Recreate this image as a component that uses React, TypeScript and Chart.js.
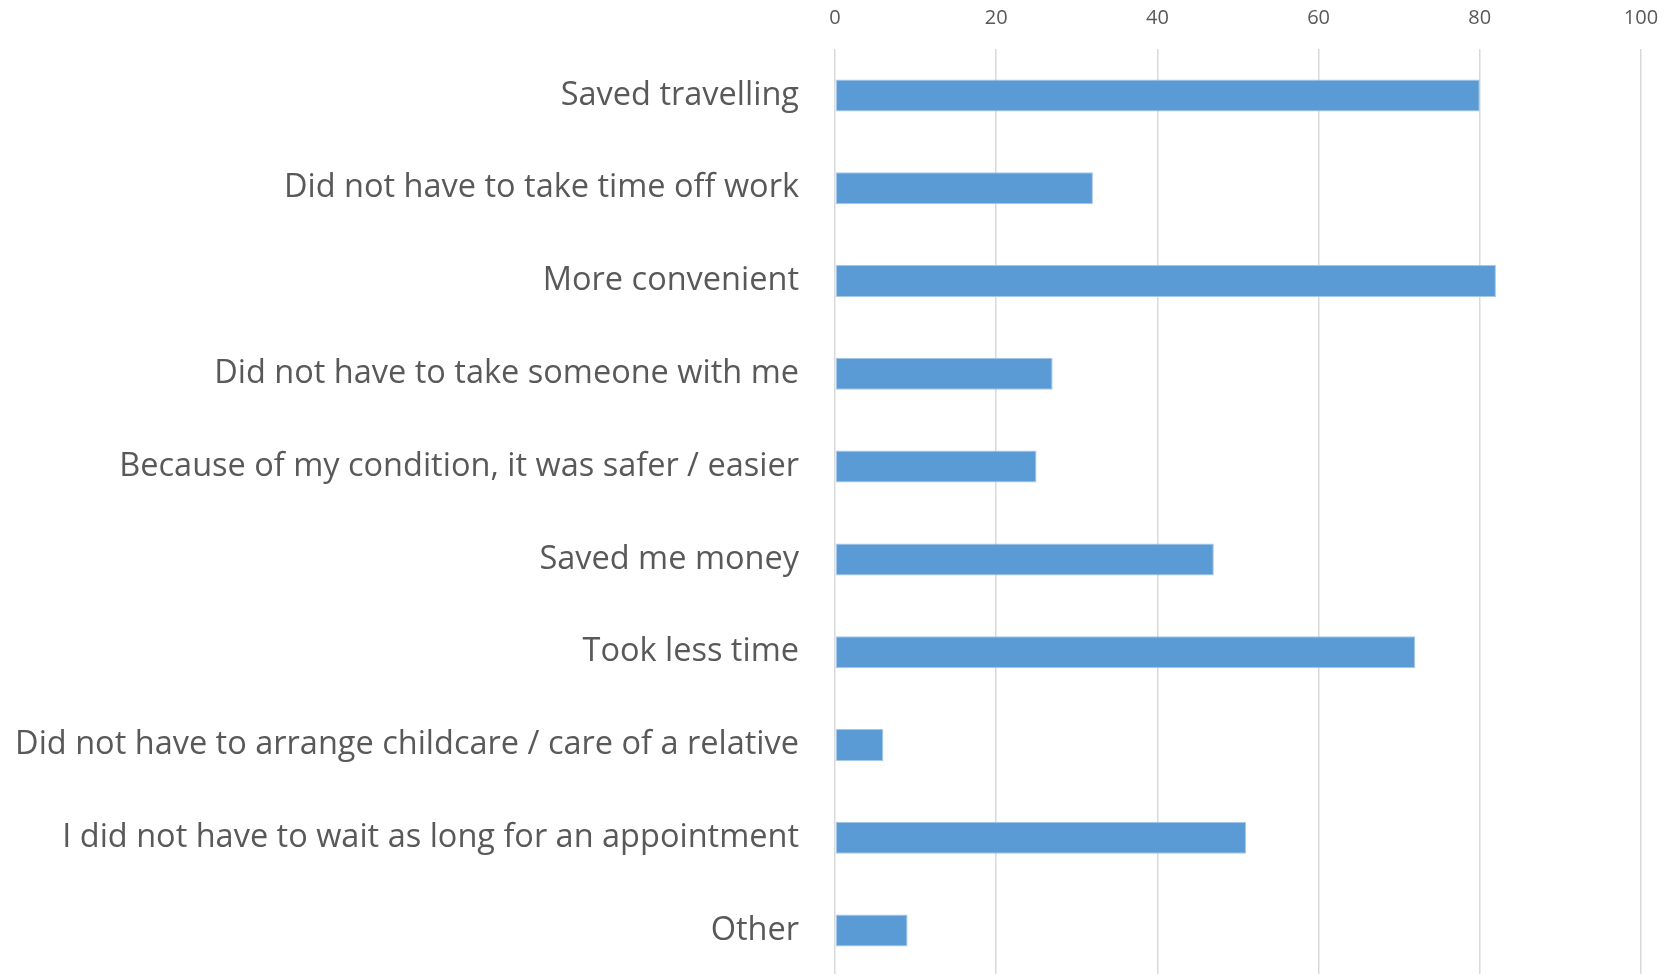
import React, { useEffect, useRef } from "react";
import { Chart, registerables } from "chart.js";

Chart.register(...registerables);

const categories = [
  "Saved travelling",
  "Did not have to take time off work",
  "More convenient",
  "Did not have to take someone with me",
  "Because of my condition, it was safer / easier",
  "Saved me money",
  "Took less time",
  "Did not have to arrange childcare / care of a relative",
  "I did not have to wait as long for an appointment",
  "Other",
];

const values = [80, 32, 82, 27, 25, 47, 72, 6, 51, 9];

const xMin = 0;
const xMax = 100;
const xStep = 20;

export default function App() {
  const ref = useRef<HTMLCanvasElement | null>(null);

  useEffect(() => {
    document.body.style.margin = "0";
    const canvas = ref.current;
    if (!canvas) return;
    const chart = new Chart(canvas, {
      type: "bar",
      data: {
        labels: categories,
        datasets: [
          {
            data: values,
            backgroundColor: "#5B9BD5",
            borderColor: "#A7C7E9",
            borderWidth: 1,
            borderSkipped: false,
            barPercentage: 0.345,
            categoryPercentage: 1,
          },
        ],
      },
      options: {
        indexAxis: "y",
        animation: false,
        responsive: false,
        devicePixelRatio: 1,
        layout: { padding: { top: 6, right: 27, bottom: 0, left: 0 } },
        plugins: {
          legend: { display: false },
          tooltip: { enabled: false },
        },
        scales: {
          x: {
            position: "top",
            min: xMin,
            max: xMax,
            afterFit: (s: any) => {
              s.paddingLeft = 0;
              s.paddingRight = 0;
              s.height = 43;
            },
            ticks: {
              stepSize: xStep,
              padding: 19,
              color: "#595959",
              font: { family: "Open Sans", size: 20 },
            },
            grid: {
              color: "#D9D9D9",
              lineWidth: 1.5,
              drawTicks: false,
            },
            border: { display: false },
          },
          y: {
            afterFit: (s: any) => {
              s.width = 835;
              s.paddingTop = 0;
              s.paddingBottom = 0;
            },
            ticks: {
              padding: 36,
              color: "#595959",
              font: { family: "Open Sans", size: 32.5 },
            },
            grid: { display: false, drawTicks: false },
            border: { display: false },
          },
        },
      },
    });
    return () => chart.destroy();
  }, []);

  return (
    <div
      style={{
        position: "fixed",
        left: 0,
        top: 0,
        width: 1668,
        height: 974,
        overflow: "hidden",
        background: "#fff",
      }}
    >
      <canvas ref={ref} width={1668} height={977} style={{ display: "block" }} />
    </div>
  );
}
